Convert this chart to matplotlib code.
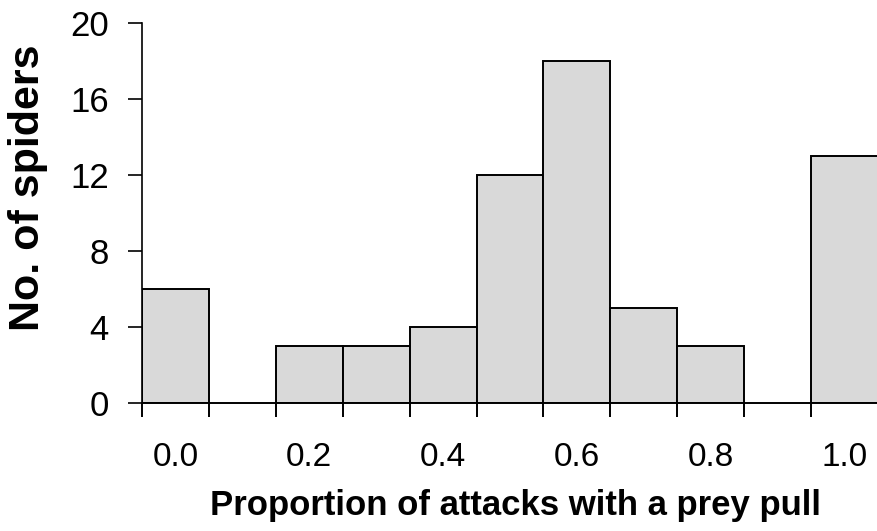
import numpy as np
import matplotlib
matplotlib.use("Agg")
import matplotlib.pyplot as plt

# ==========================
# DATA
# ==========================
bin_centers = [0.0, 0.1, 0.2, 0.3, 0.4, 0.5, 0.6, 0.7, 0.8, 0.9, 1.0]
counts = [6, 0, 3, 3, 4, 12, 18, 5, 3, 0, 13]
x_ticks = [0.0, 0.2, 0.4, 0.6, 0.8, 1.0]
x_tick_labels = ["0.0", "0.2", "0.4", "0.6", "0.8", "1.0"]
y_ticks = [0, 4, 8, 12, 16, 20]
BIN_WIDTH = 0.1

plt.rcParams["font.family"] = ["Liberation Sans", "DejaVu Sans"]

# ==========================
# PLOT
# ==========================
fig = plt.figure(figsize=(8.78, 5.31), dpi=100)
ax = fig.add_axes([142 / 878, (531 - 403) / 531, 1 - 142 / 878, (403 - 23) / 531])

centers = np.array(bin_centers)
heights = np.array(counts)
shown = heights > 0
ax.bar(centers[shown], heights[shown], width=BIN_WIDTH,
       color="#d9d9d9", edgecolor="black", linewidth=1.4)

ax.set_xlim(-0.05, 1.05)
ax.set_ylim(0, 20)

# tick marks only at the edges of drawn bars
edges = sorted(set(np.round(np.concatenate([centers[shown] - BIN_WIDTH / 2,
                                            centers[shown] + BIN_WIDTH / 2]), 3)))
ax.set_xticks(edges, minor=True)
ax.tick_params(axis="x", which="minor", length=10, width=1.4, direction="out")
ax.set_xticks(x_ticks)
ax.set_xticklabels(x_tick_labels)
ax.tick_params(axis="x", which="major", length=0, pad=28, labelsize=24)

ax.set_yticks(y_ticks)
ax.tick_params(axis="y", length=10, width=1.2, direction="out", pad=14, labelsize=25)

for side in ["top", "right"]:
    ax.spines[side].set_visible(False)
ax.spines["left"].set_linewidth(1.2)
ax.spines["bottom"].set_linewidth(1.4)

ax.set_ylabel("No. of spiders", fontsize=31, fontweight="bold")
ax.yaxis.set_label_coords(-0.128, 0.566)
ax.set_xlabel("Proportion of attacks with a prey pull", fontsize=25,
              fontweight="bold")
ax.xaxis.set_label_coords(0.508, -0.225)

fig.savefig("out.png", dpi=100)
